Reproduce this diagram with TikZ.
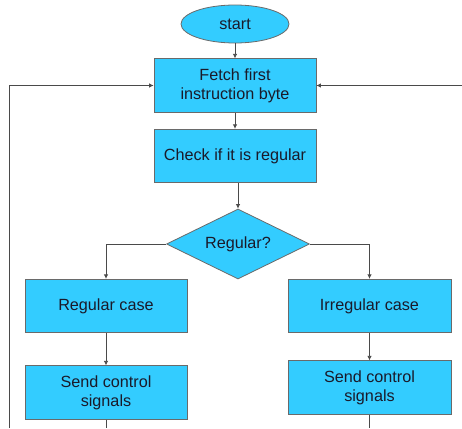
\documentclass[tikz,border=0pt]{standalone}
\usepackage{fontspec}
\setmainfont{Liberation Sans}
\usetikzlibrary{shapes.geometric,arrows.meta}
\definecolor{boxfill}{HTML}{33CCFF}
\definecolor{boxedge}{HTML}{6A6A6A}
\definecolor{linecol}{HTML}{4A4A4A}
\definecolor{txt}{HTML}{1A1A2A}
\begin{document}
\begin{tikzpicture}[x=1pt,y=-1pt,
  every node/.style={font=\fontsize{16.2}{19}\selectfont, text=txt},
  stepbox/.style={draw=boxedge, fill=boxfill, line width=0.8pt, rectangle,
     minimum width=162pt, minimum height=53.5pt, inner sep=0pt, align=center},
  startbox/.style={draw=boxedge, fill=boxfill, line width=0.8pt, ellipse,
     minimum width=108pt, minimum height=38pt, inner sep=0pt},
  decbox/.style={draw=boxedge, fill=boxfill, line width=0.8pt, diamond,
     shape aspect=2.04, minimum width=143pt, minimum height=70pt, inner sep=0pt},
  conn/.style={draw=linecol, line width=0.8pt},
  arr/.style={conn, -{Latex[length=4.5pt,width=4.5pt]}}]
\useasboundingbox (0,0) rectangle (462,428);
\node[startbox] (start) at (235,24) {start};
\node[stepbox] (fetch) at (235,85.5) {Fetch first\\instruction byte};
\node[stepbox] (check) at (235,156) {Check if it is regular};
\node[decbox] (reg) at (238,244) {Regular?};
\node[stepbox] (rcase) at (106,306) {Regular case};
\node[stepbox, minimum width=163pt] (icase) at (369.5,306) {Irregular case};
\node[stepbox] (sendl) at (106,392.5) {Send control\\signals};
\node[stepbox, minimum width=163pt] (sendr) at (369.5,387.5) {Send control\\signals};
\coordinate (lb) at (106,428);
\coordinate (rb) at (369.5,428);
\coordinate (fb) at (9,428);
\coordinate (fr) at (462,85.5);
\draw[arr] (start) -- (fetch);
\draw[arr] (fetch) -- (check);
\draw[arr] (reg.north |- check.south) -- (reg.north);
\draw[arr] (reg.west) -| (rcase.north);
\draw[arr] (reg.east) -| (icase.north);
\draw[arr] (rcase) -- (sendl);
\draw[arr] (icase) -- (sendr);
\draw[conn] (sendl.south) -- (lb);
\draw[conn] (sendr.south) -- (rb);
\draw[arr] (fb) |- (fetch.west);
\draw[arr] (fr) -- (fetch.east);
\end{tikzpicture}
\end{document}
